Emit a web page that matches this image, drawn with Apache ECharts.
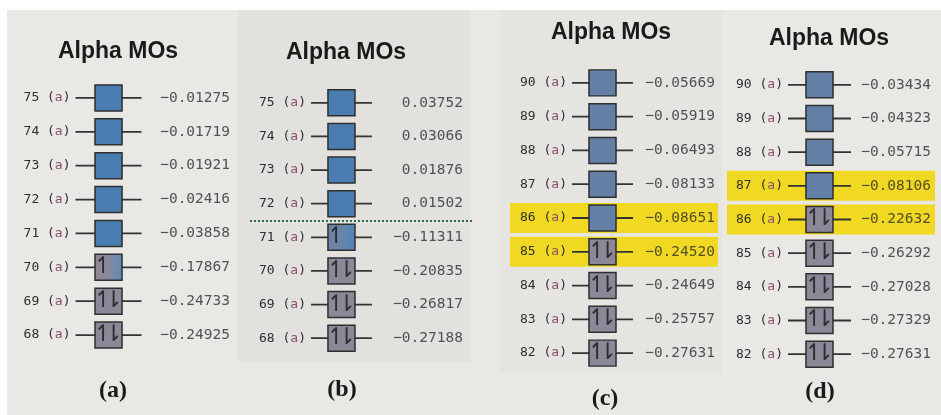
<!DOCTYPE html>
<html><head><meta charset="utf-8">
<script src="https://cdn.jsdelivr.net/npm/echarts@6/dist/echarts.min.js"></script>
<style>html,body{margin:0;padding:0;background:#fff}#c{width:941px;height:415px}</style>
</head><body><div id="c"></div><script>
// ---- data ----
const orbitalsA = ['75','74','73','72','71','70','69','68'];
const energiesA = [-0.01275,-0.01719,-0.01921,-0.02416,-0.03858,-0.17867,-0.24733,-0.24925];
const occupancyA = [0,0,0,0,0,1,2,2];
const highlightA = [];

const orbitalsB = ['75','74','73','72','71','70','69','68'];
const energiesB = [0.03752,0.03066,0.01876,0.01502,-0.11311,-0.20835,-0.26817,-0.27188];
const occupancyB = [0,0,0,0,1,2,2,2];
const highlightB = [];

const orbitalsC = ['90','89','88','87','86','85','84','83','82'];
const energiesC = [-0.05669,-0.05919,-0.06493,-0.08133,-0.08651,-0.24520,-0.24649,-0.25757,-0.27631];
const occupancyC = [0,0,0,0,0,2,2,2,2];
const highlightC = ['86','85'];

const orbitalsD = ['90','89','88','87','86','85','84','83','82'];
const energiesD = [-0.03434,-0.04323,-0.05715,-0.08106,-0.22632,-0.26292,-0.27028,-0.27329,-0.27631];
const occupancyD = [0,0,0,0,2,2,2,2,2];
const highlightD = ['87','86'];

const panelTitles = ['Alpha MOs','Alpha MOs','Alpha MOs','Alpha MOs'];
const panelTags = ['(a)','(b)','(c)','(d)'];

// ---- layout / style ----
const panels = [
  {orb:orbitalsA, en:energiesA, occ:occupancyA, hl:highlightA,
   grid:{left:20, top:81, width:212, height:271}, boxX:0.4175, lineLen:66, valOff:121.5,
   empty:'#4a7eb1', single:['#8c8898','#5b8cbd'], title:[118,52], tag:[113,391], sep:false},
  {orb:orbitalsB, en:energiesB, occ:occupancyB, hl:highlightB,
   grid:{left:250, top:86, width:222, height:269}, boxX:0.412, lineLen:61, valOff:121.5,
   empty:'#4a7eb1', single:['#6d84a6','#4c86ba'], title:[346,53], tag:[342,390], sep:true},
  {orb:orbitalsC, en:energiesC, occ:occupancyC, hl:highlightC,
   grid:{left:510, top:66, width:208, height:304}, boxX:0.4447, lineLen:61, valOff:112.5,
   empty:'#6580a6', single:['#8c8898','#6580a6'], title:[611,33], tag:[605,399], sep:false},
  {orb:orbitalsD, en:energiesD, occ:occupancyD, hl:highlightD,
   grid:{left:727, top:68, width:208, height:303}, boxX:0.4447, lineLen:63, valOff:111.5,
   empty:'#6580a6', single:['#8c8898','#6580a6'], title:[829,39], tag:[820,392], sep:false}
];
const OCC_COLOR = '#8c8898';
const fmtE = v => (v < 0 ? '\u2212' : '') + Math.abs(v).toFixed(5);

const grids = [], xAxes = [], yAxes = [], series = [], graphics = [];

graphics.push({type:'rect', shape:{x:0,y:0,width:941,height:10}, style:{fill:'#ffffff'}, z:-10});
graphics.push({type:'rect', shape:{x:0,y:0,width:7,height:415}, style:{fill:'#ffffff'}, z:-10});
graphics.push({type:'rect', shape:{x:238,y:10,width:232,height:352}, style:{fill:'#e3e1de'}, z:-9});
graphics.push({type:'rect', shape:{x:500,y:10,width:222,height:363}, style:{fill:'#e6e4e1'}, z:-9});

const arrowFont = {fontFamily:'DejaVu Sans', fontSize:23, color:'#151515'};

panels.forEach((p, i) => {
  grids.push(Object.assign({containLabel:false}, p.grid));
  xAxes.push({type:'value', gridIndex:i, min:0, max:1, show:false});
  yAxes.push({type:'category', gridIndex:i, data:p.orb, inverse:true, show:false});

  // highlight bands
  series.push({type:'bar', xAxisIndex:i, yAxisIndex:i, silent:true, animation:false,
    data: p.orb.map(o => p.hl.includes(o) ? 1 : '-'), barWidth:30,
    itemStyle:{color:'#f1d822'}, z:1});

  // connector line + row label
  series.push({type:'scatter', xAxisIndex:i, yAxisIndex:i, silent:true, animation:false,
    symbol:'rect', symbolSize:[p.lineLen, 1.8], itemStyle:{color:'#333333', opacity:1},
    data: p.orb.map((o,k) => [p.boxX, k]), z:2,
    label:{show:true, position:'left', distance:5,
      formatter: q => '{n|' + p.orb[q.dataIndex] + ' (}{p|a}{n|)}',
      rich:{n:{fontFamily:'DejaVu Sans Mono', fontSize:13, color:'#2e2e2e'},
            p:{fontFamily:'DejaVu Sans Mono', fontSize:13, color:'#8a4f6e'}}}});

  // orbital boxes
  series.push({type:'scatter', xAxisIndex:i, yAxisIndex:i, silent:true, animation:false,
    symbol:'rect', symbolSize:[27,26], z:3,
    itemStyle:{borderColor:'#2f2f2f', borderWidth:1.5, opacity:1},
    data: p.occ.map((n,k) => ({value:[p.boxX, k],
      itemStyle:{color: n === 0 ? p.empty : n === 2 ? OCC_COLOR :
        {type:'linear', x:0, y:0, x2:1, y2:0, colorStops:[{offset:0,color:p.single[0]},{offset:0.45,color:p.single[0]},{offset:1,color:p.single[1]}]}}}))});

  // spin-up electrons
  series.push({type:'scatter', xAxisIndex:i, yAxisIndex:i, silent:true, animation:false,
    symbolSize:1, itemStyle:{color:'rgba(0,0,0,0)'}, z:4,
    data: p.occ.map((n,k) => n >= 1 ? [p.boxX, k] : null).filter(d => d),
    label:Object.assign({show:true, position:'inside', offset:[-5.5,0], formatter:'\u21BF'}, arrowFont)});
  // spin-down electrons
  series.push({type:'scatter', xAxisIndex:i, yAxisIndex:i, silent:true, animation:false,
    symbolSize:1, itemStyle:{color:'rgba(0,0,0,0)'}, z:4,
    data: p.occ.map((n,k) => n >= 2 ? [p.boxX, k] : null).filter(d => d),
    label:Object.assign({show:true, position:'inside', offset:[5,0], formatter:'\u21C2'}, arrowFont)});

  // energies
  series.push({type:'scatter', xAxisIndex:i, yAxisIndex:i, silent:true, animation:false,
    symbol:'rect', symbolSize:2, itemStyle:{color:'rgba(0,0,0,0)'}, z:2,
    data: p.en.map((e,k) => [p.boxX, k, e]),
    label:{show:true, position:[p.valOff + 1, 1], align:'right', verticalAlign:'middle',
      fontFamily:'DejaVu Sans Mono', fontSize:14.5, color:'#2c2c2c',
      formatter: q => fmtE(q.value[2])}});

  graphics.push({type:'text', x:p.title[0], y:p.title[1], z:5,
    style:{text:panelTitles[i], font:'bold 23px "Liberation Sans", Arial, sans-serif', fill:'#1a1a1a',
      align:'center', verticalAlign:'middle', textAlign:'center', textVerticalAlign:'middle'}});
  graphics.push({type:'text', x:p.tag[0], y:p.tag[1], z:5,
    style:{text:panelTags[i], font:'bold 24px "Liberation Serif", "Times New Roman", serif', fill:'#1a1a1a',
      align:'center', verticalAlign:'middle', textAlign:'center', textVerticalAlign:'middle'}});
});

// occupied / virtual separator (panel b): value axis sharing the grid
panels.forEach((p, i) => {
  if (!p.sep) return;
  const yi = yAxes.length;
  yAxes.push({type:'value', gridIndex:i, min:-0.5, max:p.orb.length - 0.5, inverse:true, show:false});
  const boundary = p.occ.findIndex(n => n > 0) - 0.5;
  series.push({type:'scatter', xAxisIndex:i, yAxisIndex:yi, silent:true, animation:false,
    symbolSize:0, data:[[0, boundary]],
    markLine:{silent:true, symbol:['none','none'], animation:false, label:{show:false},
      lineStyle:{color:'#2e6a4c', type:[2,2], width:2},
      data:[{yAxis:boundary}]}});
});

const chart = echarts.init(document.getElementById('c'), null, {renderer:'canvas'});
chart.setOption({
  backgroundColor:'#eae8e5',
  animation:false,
  grid:grids, xAxis:xAxes, yAxis:yAxes, series:series,
  graphic:{elements:graphics}
});
</script></body></html>
